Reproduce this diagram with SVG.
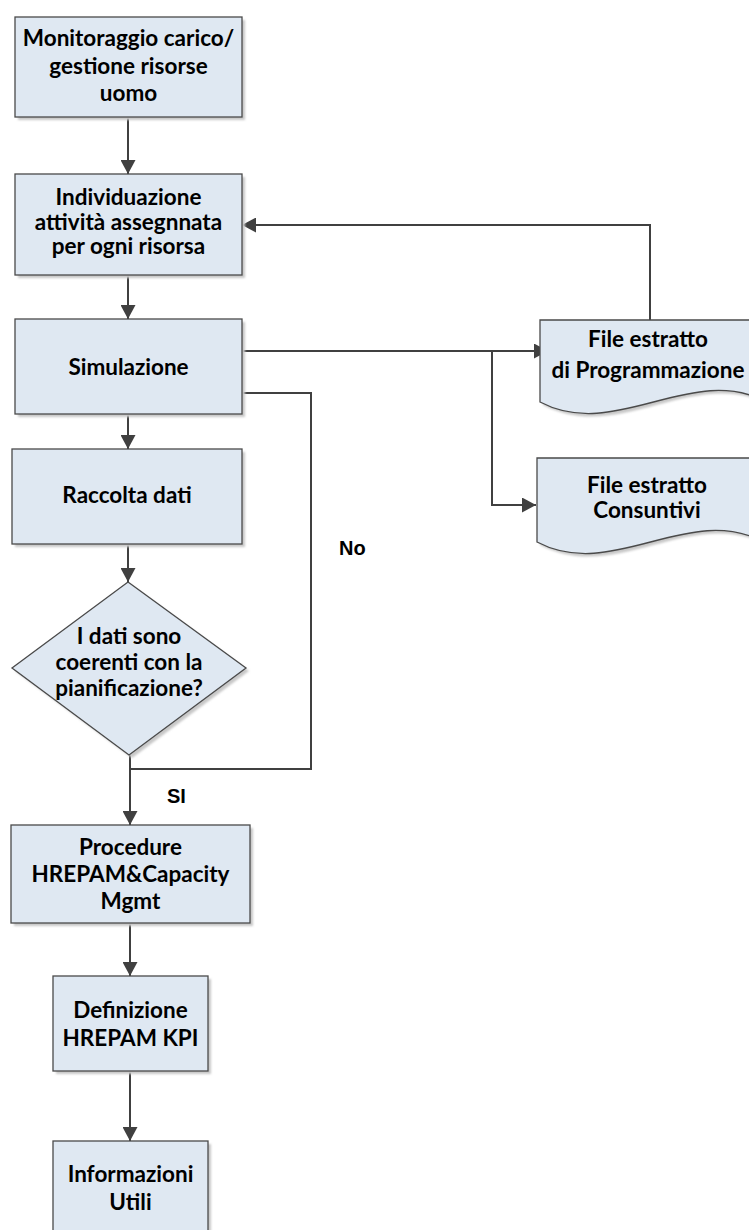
<svg xmlns="http://www.w3.org/2000/svg" width="749" height="1230" viewBox="0 0 749 1230">
  <style>
    .box { fill: #dfe8f2; stroke: #4a4a4a; stroke-width: 1.3; }
    .shadow { fill: #c8c8c8; filter: url(#soft); }
    .lbl { font-family: Lato, "Liberation Sans", sans-serif; font-weight: bold; font-size: 22.5px; fill: #000; text-anchor: middle; }
    .tag { font-family: "Liberation Sans", Arial, sans-serif; font-weight: bold; font-size: 20px; fill: #000; }
    .wire { fill: none; stroke: #404040; stroke-width: 2; }
    .arrow { fill: none; stroke: #404040; stroke-width: 2; marker-end: url(#head); }
  </style>
  <defs>
    <filter id="soft" x="-10%" y="-10%" width="120%" height="120%">
      <feGaussianBlur stdDeviation="0.8"/>
    </filter>
    <marker id="head" viewBox="0 0 14 15" refX="14" refY="7.5" markerWidth="14" markerHeight="15" markerUnits="userSpaceOnUse" orient="auto">
      <path d="M0,0 L14,7.5 L0,15 Z" fill="#404040"/>
    </marker>
  </defs>

  <rect width="749" height="1230" fill="#ffffff"/>

  <!-- connectors -->
  <g id="connectors">
    <path class="arrow" d="M128,117 V174"/>
    <path class="arrow" d="M128,275 V319"/>
    <path class="arrow" d="M128,414 V449"/>
    <path class="arrow" d="M128,544 V582"/>
    <path class="arrow" d="M242,351 H548"/>
    <path class="arrow" d="M492,351 V505 H536"/>
    <path class="arrow" d="M650,320 V225 H242"/>
    <path class="wire" d="M242,393 H311 V769 H130"/>
    <path class="arrow" d="M130,755 V825"/>
    <path class="arrow" d="M130,923 V976"/>
    <path class="arrow" d="M130,1071 V1141"/>
    <text class="tag" x="339" y="555">No</text>
    <text class="tag" x="167" y="803">SI</text>
  </g>

  <g id="n-monitoraggio">
    <rect class="shadow" x="18" y="20" width="227" height="100"/>
    <rect class="box" x="15" y="17" width="227" height="100"/>
    <text class="lbl" x="128.5" y="46">Monitoraggio carico/</text>
    <text class="lbl" x="128.5" y="74">gestione risorse</text>
    <text class="lbl" x="128.5" y="101">uomo</text>
  </g>

  <g id="n-individuazione">
    <rect class="shadow" x="18" y="177" width="227" height="101"/>
    <rect class="box" x="15" y="174" width="227" height="101"/>
    <text class="lbl" x="128.5" y="205">Individuazione</text>
    <text class="lbl" x="128.5" y="230">attività assegnnata</text>
    <text class="lbl" x="128.5" y="254">per ogni risorsa</text>
  </g>

  <g id="n-simulazione">
    <rect class="shadow" x="18" y="322" width="227" height="95"/>
    <rect class="box" x="15" y="319" width="227" height="95"/>
    <text class="lbl" x="128.5" y="375">Simulazione</text>
  </g>

  <g id="n-raccolta">
    <rect class="shadow" x="15" y="452" width="230" height="95"/>
    <rect class="box" x="12" y="449" width="230" height="95"/>
    <text class="lbl" x="127" y="503">Raccolta dati</text>
  </g>

  <g id="n-decisione">
    <path class="shadow" d="M131,585 L249,671 L132,758 L15,671 Z"/>
    <path class="box" d="M128,582 L246,668 L129,755 L12,668 Z"/>
    <text class="lbl" x="129" y="644">I dati sono</text>
    <text class="lbl" x="129" y="670">coerenti con la</text>
    <text class="lbl" x="129" y="696">pianificazione?</text>
  </g>

  <g id="n-procedure">
    <rect class="shadow" x="14" y="828" width="239" height="98"/>
    <rect class="box" x="11" y="825" width="239" height="98"/>
    <text class="lbl" x="130.5" y="855">Procedure</text>
    <text class="lbl" x="130.5" y="882">HREPAM&amp;Capacity</text>
    <text class="lbl" x="130.5" y="909">Mgmt</text>
  </g>

  <g id="n-definizione">
    <rect class="shadow" x="56" y="979" width="155" height="95"/>
    <rect class="box" x="53" y="976" width="155" height="95"/>
    <text class="lbl" x="130.5" y="1018">Definizione</text>
    <text class="lbl" x="130.5" y="1046">HREPAM KPI</text>
  </g>

  <g id="n-informazioni">
    <rect class="shadow" x="56" y="1144" width="155" height="100"/>
    <rect class="box" x="53" y="1141" width="155" height="100"/>
    <text class="lbl" x="130.5" y="1182">Informazioni</text>
    <text class="lbl" x="130.5" y="1210">Utili</text>
  </g>

  <g id="n-file-programmazione">
    <path class="shadow" d="M543,323 H770 V405 C694,365 619,445 543,405 Z"/>
    <path class="box" d="M540,320 H767 V402 C691,362 616,442 540,402 Z"/>
    <text class="lbl" x="648" y="347">File estratto</text>
    <text class="lbl" x="648" y="378">di Programmazione</text>
  </g>

  <g id="n-file-consuntivi">
    <path class="shadow" d="M540,461 H767 V545 C691,505 616,585 540,545 Z"/>
    <path class="box" d="M537,458 H764 V542 C688,502 613,582 537,542 Z"/>
    <text class="lbl" x="647" y="493">File estratto</text>
    <text class="lbl" x="647" y="518">Consuntivi</text>
  </g>
</svg>
